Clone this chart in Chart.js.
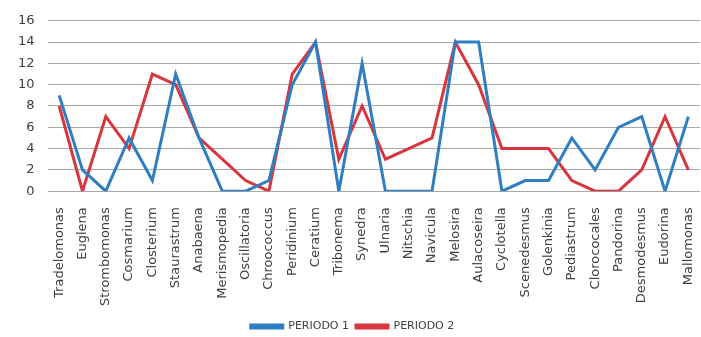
<!DOCTYPE html>
<html>
<head>
<meta charset="utf-8">
<script src="https://cdn.jsdelivr.net/npm/chart.js@4/dist/chart.umd.min.js"></script>
<style>
  html, body { margin: 0; padding: 0; background: #ffffff; }
  #wrap { width: 701px; height: 337px; position: relative; }
</style>
</head>
<body>
<div id="wrap"><canvas id="chart"></canvas></div>
<script>
// Genera observed in each sampling period
const categories = [
  'Tradelomonas', 'Euglena', 'Strombomonas', 'Cosmarium', 'Closterium',
  'Staurastrum', 'Anabaena', 'Merismopedia', 'Oscillatoria', 'Chroococcus',
  'Peridinium', 'Ceratium', 'Tribonema', 'Synedra', 'Ulnaria', 'Nitschia',
  'Navicula', 'Melosira', 'Aulacoseira', 'Cyclotella', 'Scenedesmus',
  'Golenkinia', 'Pediastrum', 'Clorococales', 'Pandorina', 'Desmodesmus',
  'Eudorina', 'Mallomonas'
];

const periodo1 = [9, 2, 0, 5, 1, 11, 5, 0, 0, 1, 10, 14, 0, 12, 0, 0, 0, 14, 14, 0, 1, 1, 5, 2, 6, 7, 0, 7];
const periodo2 = [8, 0, 7, 4, 11, 10, 5, 3, 1, 0, 11, 14, 3, 8, 3, 4, 5, 14, 10, 4, 4, 4, 1, 0, 0, 2, 7, 2];

const yTicks = [0, 2, 4, 6, 8, 10, 12, 14, 16];

const textColor = '#404040';
const fontFamily = '"DejaVu Sans", sans-serif';

new Chart(document.getElementById('chart'), {
  type: 'line',
  data: {
    labels: categories,
    datasets: [
      {
        label: 'PERIODO 1',
        data: periodo1,
        borderColor: '#2f7ec1',
        backgroundColor: '#2f7ec1',
        borderWidth: 3,
        pointRadius: 0,
        tension: 0
      },
      {
        label: 'PERIODO 2',
        data: periodo2,
        borderColor: '#d8363f',
        backgroundColor: '#d8363f',
        borderWidth: 3,
        pointRadius: 0,
        tension: 0
      }
    ]
  },
  options: {
    responsive: true,
    maintainAspectRatio: false,
    animation: false,
    layout: { padding: { left: 5, right: 1, top: 12, bottom: -5 } },
    plugins: {
      legend: {
        position: 'bottom',
        labels: {
          color: textColor,
          font: { family: fontFamily, size: 11 },
          boxWidth: 32,
          boxHeight: 3,
          padding: 7
        }
      },
      tooltip: { enabled: false }
    },
    scales: {
      x: {
        offset: true,
        grid: { display: false },
        border: { display: false },
        afterFit: (scale) => { scale.paddingLeft = 0; scale.paddingRight = 0; },
        ticks: {
          color: textColor,
          font: { family: fontFamily, size: 13 },
          minRotation: 90,
          maxRotation: 90,
          autoSkip: false,
          padding: 8
        }
      },
      y: {
        min: 0,
        max: 16,
        afterBuildTicks: (axis) => { axis.ticks = yTicks.map(v => ({ value: v })); },
        grid: { color: '#a8a8a8', lineWidth: 1, drawTicks: false },
        border: { display: false },
        ticks: {
          color: textColor,
          font: { family: fontFamily, size: 13 },
          padding: 13
        }
      }
    }
  }
});
</script>
</body>
</html>
